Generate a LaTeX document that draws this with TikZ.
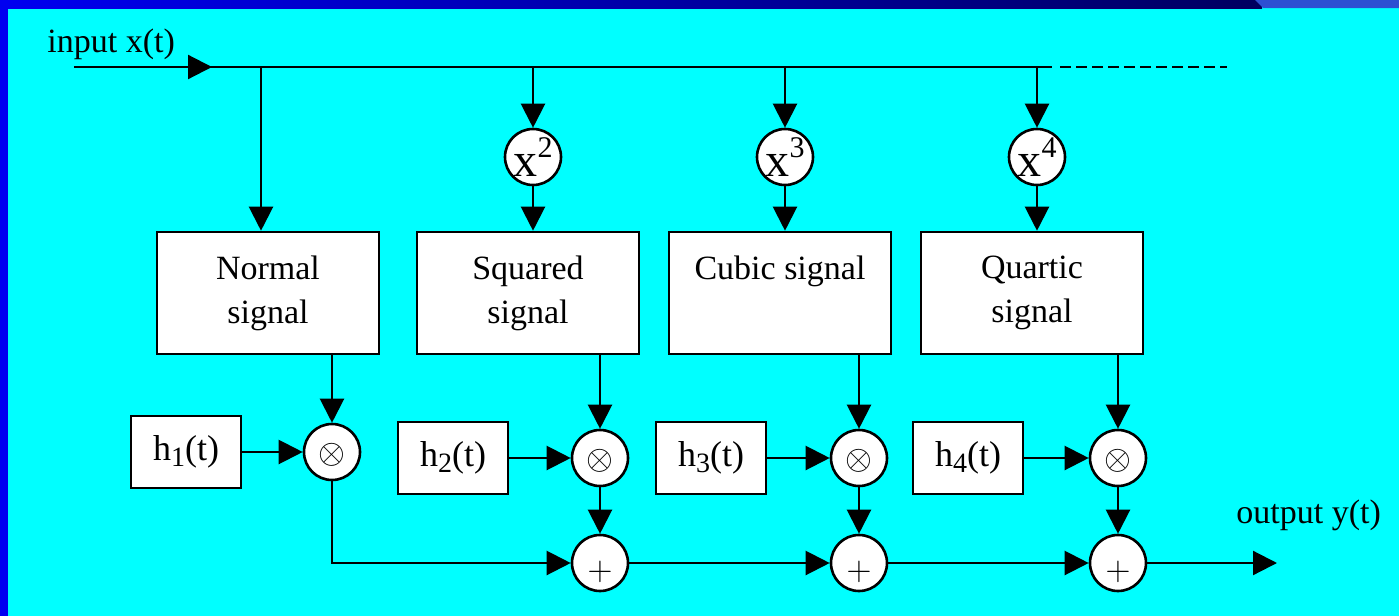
\documentclass[tikz,border=0pt]{standalone}
\usepackage{fontspec}
\setmainfont{Liberation Serif}
\usetikzlibrary{arrows.meta}
\definecolor{bgcyan}{RGB}{0,255,255}
\definecolor{barblue}{RGB}{0,0,240}
\definecolor{barnavy}{RGB}{0,0,95}
\definecolor{barlight}{RGB}{45,80,210}
\begin{document}
\begin{tikzpicture}[x=0.5pt,y=-0.5pt,
  conn/.style={line width=1.1pt},
  arr/.style={conn,-{Triangle[length=12pt,width=12pt]}},
  blockbox/.style={draw,line width=1.3pt,fill=white,minimum width=111pt,minimum height=61pt,inner sep=0pt,align=center,font=\fontsize{17}{22}\selectfont},
  hbox/.style={draw,line width=1.3pt,fill=white,minimum width=55pt,minimum height=36pt,inner sep=0pt,font=\fontsize{18}{20}\selectfont},
  opcircle/.style={draw,circle,line width=1.3pt,fill=white,minimum size=28pt,inner sep=0pt},
  lbl/.style={inner sep=0pt,anchor=base west,font=\fontsize{17}{20}\selectfont}]
\useasboundingbox (0,0) rectangle (1399,616);
% background and slide bars
\fill[bgcyan] (0,0) rectangle (1399,616);
\shade[left color=barblue,right color=barnavy] (0,0) rectangle (1262,8);
\fill[barlight] (1255,0) -- (1399,0) -- (1399,8) -- (1263,8) -- cycle;
\fill[barblue] (0,0) rectangle (8,616);
% labels
\node[lbl] (inlbl) at (47,52) {input x(t)};
\node[lbl] (outlbl) at (1236,523) {output y(t)};
% main input line
\coordinate (in) at (74,67);
\coordinate (intip) at (212,67);
\coordinate (mainend) at (1052,67);
\coordinate (dashstart) at (1060,67);
\coordinate (dashend) at (1227,67);
\coordinate (j1) at (261,67);
\coordinate (j2) at (533,67);
\coordinate (j3) at (785,67);
\coordinate (j4) at (1037,67);
\draw[conn] (in) -- (mainend);
\draw[arr] (in) -- (intip);
\draw[conn,dash pattern=on 5.5pt off 2.5pt] (dashstart) -- (dashend);
% power circles
\node[opcircle] (c2) at (533,157) {\fontsize{24}{24}\selectfont x\raisebox{9.5pt}{\fontsize{15}{15}\selectfont 2}};
\node[opcircle] (c3) at (785,157) {\fontsize{24}{24}\selectfont x\raisebox{9.5pt}{\fontsize{15}{15}\selectfont 3}};
\node[opcircle] (c4) at (1037,157) {\fontsize{24}{24}\selectfont x\raisebox{9.5pt}{\fontsize{15}{15}\selectfont 4}};
% signal boxes
\node[blockbox] (nb) at (268,293) {Normal\\signal};
\node[blockbox] (sb) at (528,293) {Squared\\signal};
\node[blockbox] (cb) at (780,293) {Cubic signal\\\vphantom{g}};
\node[blockbox] (qb) at (1032,293) {Quartic\\signal};
% filter boxes
\node[hbox] (h1) at (186,452) {h\raisebox{-3pt}{\fontsize{14}{14}\selectfont 1}(t)};
\node[hbox] (h2) at (453,458) {h\raisebox{-3pt}{\fontsize{14}{14}\selectfont 2}(t)};
\node[hbox] (h3) at (711,458) {h\raisebox{-3pt}{\fontsize{14}{14}\selectfont 3}(t)};
\node[hbox] (h4) at (968,458) {h\raisebox{-3pt}{\fontsize{14}{14}\selectfont 4}(t)};
% multipliers
\node[opcircle] (m1) at (332,452) {\raisebox{-5.5pt}[0pt][0pt]{\fontsize{16}{16}\selectfont$\otimes$}};
\node[opcircle] (m2) at (600,458) {\raisebox{-5.5pt}[0pt][0pt]{\fontsize{16}{16}\selectfont$\otimes$}};
\node[opcircle] (m3) at (859,458) {\raisebox{-5.5pt}[0pt][0pt]{\fontsize{16}{16}\selectfont$\otimes$}};
\node[opcircle] (m4) at (1118,458) {\raisebox{-5.5pt}[0pt][0pt]{\fontsize{16}{16}\selectfont$\otimes$}};
% adders
\node[opcircle] (p2) at (600,563) {\raisebox{-8.5pt}[0pt][0pt]{\fontsize{17}{17}\selectfont$+$}};
\node[opcircle] (p3) at (859,563) {\raisebox{-8.5pt}[0pt][0pt]{\fontsize{17}{17}\selectfont$+$}};
\node[opcircle] (p4) at (1118,563) {\raisebox{-8.5pt}[0pt][0pt]{\fontsize{17}{17}\selectfont$+$}};
\coordinate (out) at (1277,563);
% connectors from main line
\draw[arr] (j1) -- (j1 |- nb.north);
\draw[arr] (j2) -- (c2.north);
\draw[arr] (j3) -- (c3.north);
\draw[arr] (j4) -- (c4.north);
\draw[arr] (c2.south) -- (c2.south |- sb.north);
\draw[arr] (c3.south) -- (c3.south |- cb.north);
\draw[arr] (c4.south) -- (c4.south |- qb.north);
% boxes to multipliers
\draw[arr] (m1.north |- nb.south) -- (m1.north);
\draw[arr] (m2.north |- sb.south) -- (m2.north);
\draw[arr] (m3.north |- cb.south) -- (m3.north);
\draw[arr] (m4.north |- qb.south) -- (m4.north);
% filters to multipliers
\draw[arr] (h1.east) -- (m1.west);
\draw[arr] (h2.east) -- (m2.west);
\draw[arr] (h3.east) -- (m3.west);
\draw[arr] (h4.east) -- (m4.west);
% multipliers to adders
\draw[arr] (m1.south) -- (m1.south |- p2.west) -- (p2.west);
\draw[arr] (m2.south) -- (p2.north);
\draw[arr] (m3.south) -- (p3.north);
\draw[arr] (m4.south) -- (p4.north);
% adder chain
\draw[arr] (p2.east) -- (p3.west);
\draw[arr] (p3.east) -- (p4.west);
\draw[arr] (p4.east) -- (out);
\end{tikzpicture}
\end{document}
